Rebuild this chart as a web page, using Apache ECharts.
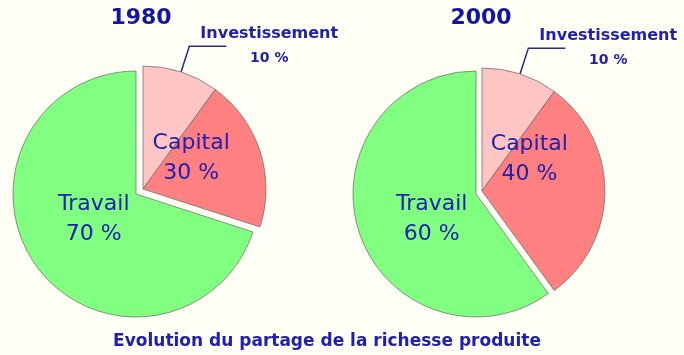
<!DOCTYPE html>
<html>
<head>
<meta charset="utf-8">
<script src="https://cdn.jsdelivr.net/npm/echarts@6/dist/echarts.min.js"></script>
<style>
  html, body { margin: 0; padding: 0; background: #fefef5; }
  #pieChart { width: 684px; height: 355px; }
</style>
</head>
<body>
<div id="pieChart"></div>
<script>
// values (percent)
const years = ["1980", "2000"];
const investissement = [10, 10];
const capital = [30, 40]; // capital share, investissement included
const travail = [70, 60];
const caption = "Evolution du partage de la richesse produite";

const FONT = "DejaVu Sans";
const BLUE = "#2020b0";
const transparent = { color: "rgba(0,0,0,0)", borderWidth: 0 };

// pie placement per year
const centers = [[136, 194], [476, 194]];
const explodedCenters = [[143, 189], [482, 191]];
const radius = 123;
const labelOffsets = [
  { Capital: [3, 2], Travail: [10, -13] },
  { Capital: [-8, -15], Travail: [17, 5] },
];

const baseSlice = {
  borderColor: "#666",
  borderWidth: 0.7,
};

const series = [];
years.forEach((year, i) => {
  // travail slice
  series.push({
    type: "pie",
    silent: true,
    startAngle: 90,
    center: centers[i],
    radius: radius,
    label: { show: false },
    labelLine: { show: false },
    emphasis: { disabled: true },
    data: [
      { name: "Capital", value: capital[i], itemStyle: transparent },
      { name: "Travail", value: travail[i], itemStyle: { ...baseSlice, color: "#80ff80" } },
    ],
  });
  // capital part, pulled out
  series.push({
    type: "pie",
    silent: true,
    startAngle: 90,
    center: explodedCenters[i],
    radius: radius,
    avoidLabelOverlap: false,
    label: { show: false },
    labelLine: { show: false },
    emphasis: { disabled: true },
    data: [
      {
        name: "Investissement",
        value: investissement[i],
        itemStyle: { ...baseSlice, color: "#ffc4c4" },
        label: {
          show: true,
          position: "outside",
          distanceToLabelLine: -26,
          formatter: (p) => "{a|" + p.name + "}\n{b|" + p.value + " %}",
          rich: {
            a: { fontFamily: FONT, fontWeight: "bold", fontSize: 16, color: BLUE, lineHeight: 25 },
            b: { fontFamily: FONT, fontWeight: "bold", fontSize: 14, color: BLUE, lineHeight: 25, align: "center" },
          },
        },
        labelLine: {
          show: true,
          length: 27,
          length2: 37,
          lineStyle: { color: "#2a2a80", width: 1.5 },
        },
      },
      { name: "Capital", value: capital[i] - investissement[i], itemStyle: { ...baseSlice, color: "#ff8080" } },
      { name: "Travail", value: travail[i], itemStyle: transparent },
    ],
  });
  // inside labels
  series.push({
    type: "pie",
    silent: true,
    startAngle: 90,
    center: centers[i],
    radius: radius,
    itemStyle: transparent,
    labelLine: { show: false },
    emphasis: { disabled: true },
    label: {
      show: true,
      position: "inside",
      formatter: "{b}\n{c} %",
      fontFamily: FONT,
      fontSize: 22,
      lineHeight: 30,
      color: BLUE,
    },
    data: [
      { name: "Capital", value: capital[i], label: { offset: labelOffsets[i].Capital } },
      { name: "Travail", value: travail[i], label: { offset: labelOffsets[i].Travail } },
    ],
  });
});

const titles = years.map((year, i) => ({
  text: year,
  left: centers[i][0],
  top: 2,
  textAlign: "center",
  textStyle: { fontFamily: FONT, fontSize: 22, fontWeight: "bold", color: "#1515a0" },
}));
titles.push({
  text: caption,
  left: 322,
  top: 328,
  textAlign: "center",
  textStyle: { fontFamily: FONT, fontSize: 17, fontWeight: "bold", color: BLUE },
});

const option = {
  backgroundColor: "#fefef5",
  animation: false,
  title: titles,
  series: series,
};

var chartDom = document.getElementById("pieChart");
var myChart = echarts.init(chartDom);
option && myChart.setOption(option);
</script>
</body>
</html>
